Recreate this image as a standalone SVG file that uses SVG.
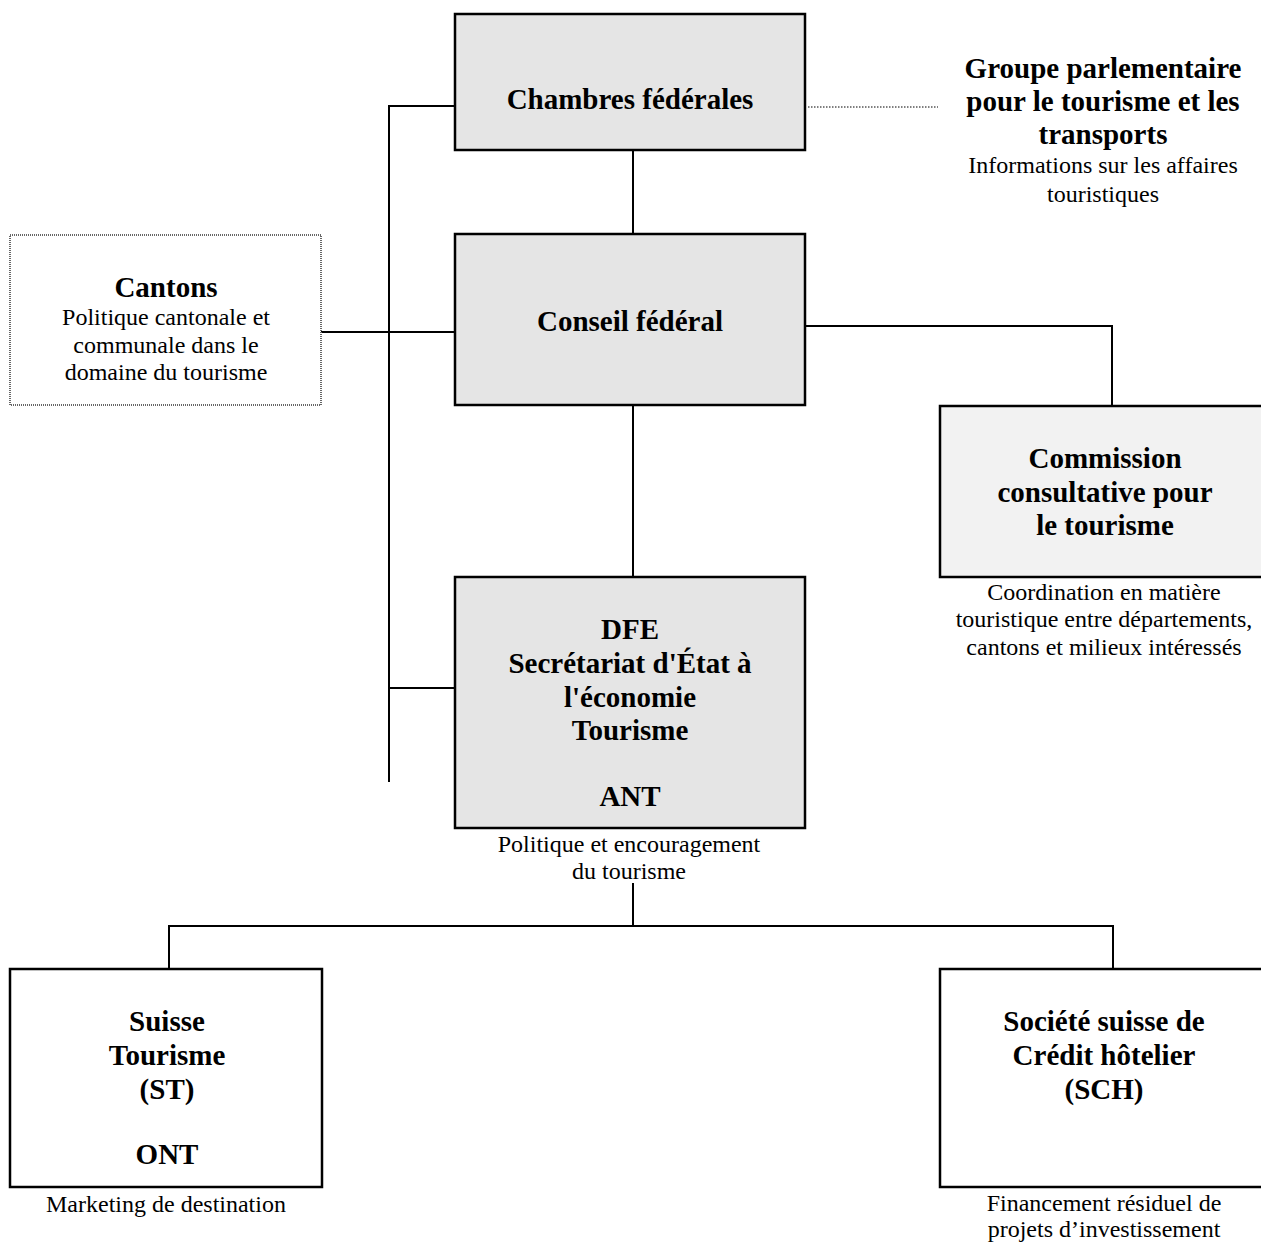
<svg xmlns="http://www.w3.org/2000/svg" width="1261" height="1243" viewBox="0 0 1261 1243">
<style>
.box{stroke:#000;stroke-width:2.5}
.g{fill:#e5e5e5}
.lg{fill:#f2f2f2}
.w{fill:#fff}
.dot{fill:#fff;stroke:#666;stroke-width:2;stroke-dasharray:1 1}
.ln{stroke:#000;stroke-width:2;fill:none}
.dl{stroke:#000;stroke-width:1;stroke-dasharray:1.5 1.5;fill:none}
text{font-family:"Liberation Serif","Times New Roman",serif;fill:#000;text-anchor:middle}
.b{font-weight:bold;font-size:29px}
.r{font-size:24px}
</style>
<rect width="1261" height="1243" fill="#fff"/>
<g id="connectors">
<polyline class="ln" points="454,106 389,106 389,782"/>
<line class="ln" x1="321" y1="332" x2="454" y2="332"/>
<line class="ln" x1="389" y1="688" x2="454" y2="688"/>
<line class="ln" x1="633" y1="150" x2="633" y2="234"/>
<line class="ln" x1="633" y1="405" x2="633" y2="594"/>
<polyline class="ln" points="805,326 1112,326 1112,426"/>
<line class="ln" x1="633" y1="883" x2="633" y2="926"/>
<polyline class="ln" points="169,969 169,926 1113,926 1113,969"/>
<line class="dl" x1="808" y1="107" x2="938" y2="107"/>
</g>
<g id="chambres">
<rect class="box g" x="455" y="14" width="350" height="136"/>
<text class="b" x="630" y="109">Chambres fédérales</text>
</g>
<g id="groupe">
<text class="b" x="1103" y="78">Groupe parlementaire</text>
<text class="b" x="1103" y="111">pour le tourisme et les</text>
<text class="b" x="1103" y="144">transports</text>
<text class="r" x="1103" y="173">Informations sur les affaires</text>
<text class="r" x="1103" y="202">touristiques</text>
</g>
<g id="cantons">
<rect class="dot" x="10" y="235" width="311" height="170"/>
<text class="b" x="166" y="297">Cantons</text>
<text class="r" x="166" y="325">Politique cantonale et</text>
<text class="r" x="166" y="353">communale dans le</text>
<text class="r" x="166" y="380">domaine du tourisme</text>
</g>
<g id="conseil">
<rect class="box g" x="455" y="234" width="350" height="171"/>
<text class="b" x="630" y="331">Conseil fédéral</text>
</g>
<g id="commission">
<rect class="box lg" x="940" y="406" width="330" height="171"/>
<text class="b" x="1105" y="468">Commission</text>
<text class="b" x="1105" y="502">consultative pour</text>
<text class="b" x="1105" y="535">le tourisme</text>
<text class="r" x="1104" y="600">Coordination en matière</text>
<text class="r" x="1104" y="627">touristique entre départements,</text>
<text class="r" x="1104" y="655">cantons et milieux intéressés</text>
</g>
<g id="dfe">
<rect class="box g" x="455" y="577" width="350" height="251"/>
<text class="b" x="630" y="639">DFE</text>
<text class="b" x="630" y="673">Secrétariat d'État à</text>
<text class="b" x="630" y="707">l'économie</text>
<text class="b" x="630" y="740">Tourisme</text>
<text class="b" x="630" y="806">ANT</text>
<text class="r" x="629" y="852">Politique et encouragement</text>
<text class="r" x="629" y="879">du tourisme</text>
</g>
<g id="suisse">
<rect class="box w" x="10" y="969" width="312" height="218"/>
<text class="b" x="167" y="1031">Suisse</text>
<text class="b" x="167" y="1065">Tourisme</text>
<text class="b" x="167" y="1099">(ST)</text>
<text class="b" x="167" y="1164">ONT</text>
<text class="r" x="166" y="1212">Marketing de destination</text>
</g>
<g id="sch">
<rect class="box w" x="940" y="969" width="330" height="218"/>
<text class="b" x="1104" y="1031">Société suisse de</text>
<text class="b" x="1104" y="1065">Crédit hôtelier</text>
<text class="b" x="1104" y="1099">(SCH)</text>
<text class="r" x="1104" y="1211">Financement résiduel de</text>
<text class="r" x="1104" y="1237">projets d’investissement</text>
</g>
</svg>
